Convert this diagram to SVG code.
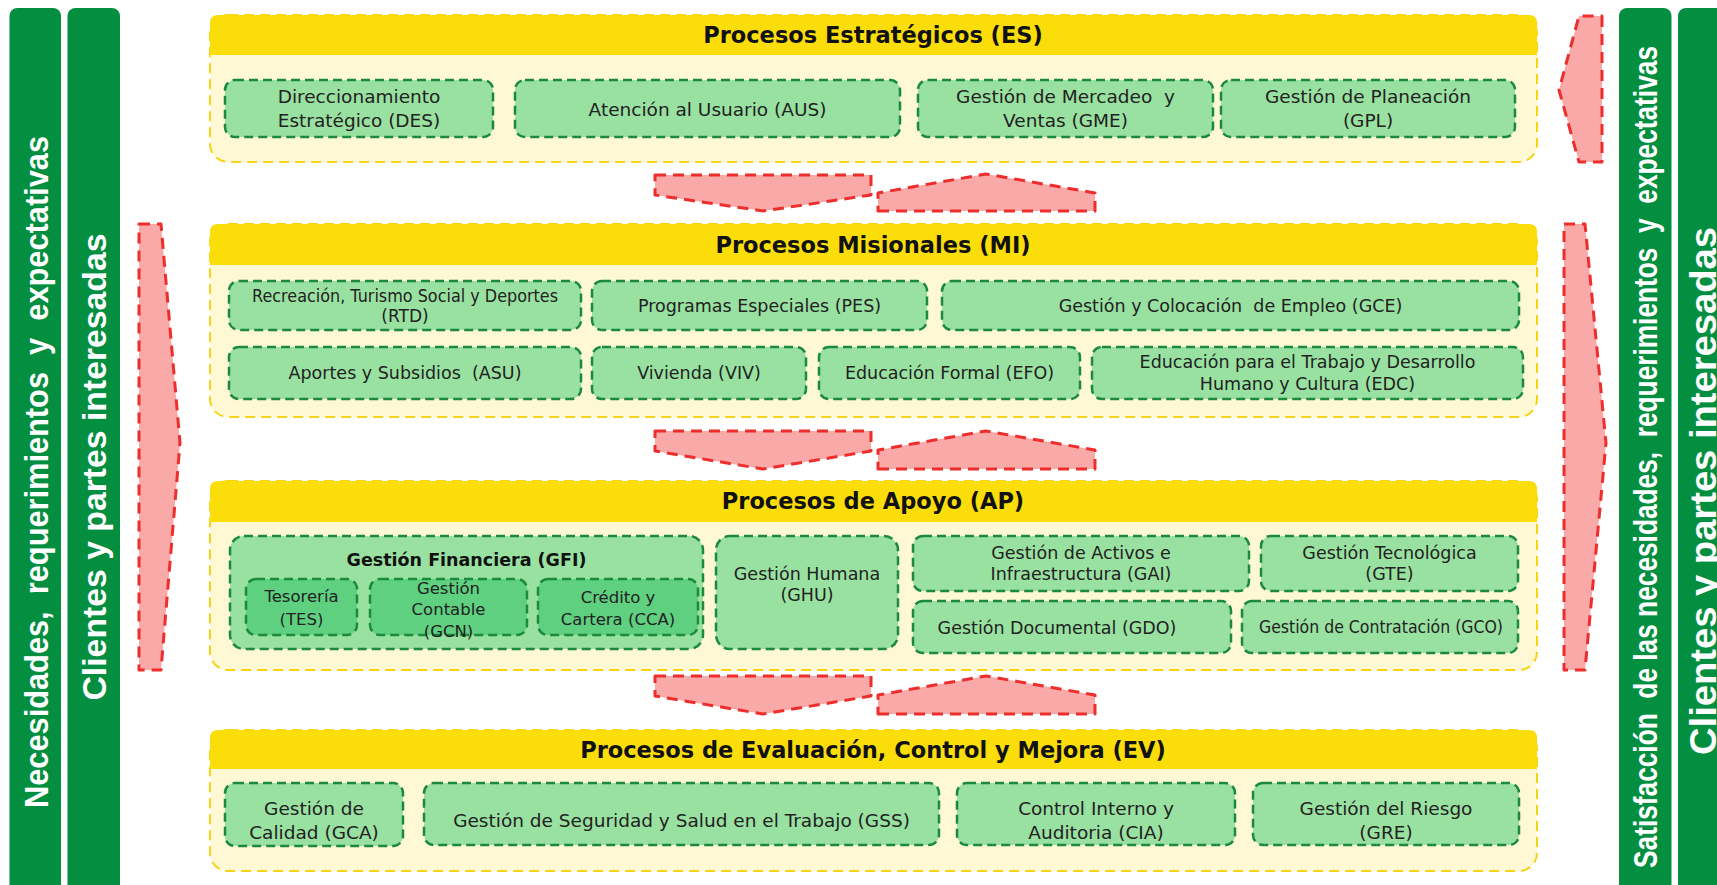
<svg xmlns="http://www.w3.org/2000/svg" width="1717" height="885" viewBox="0 0 1717 885">
<defs>
<style>
.bar{fill:#038F3F}
.vt{font-family:"Liberation Sans",Arial,sans-serif;font-weight:bold;fill:#ffffff;text-anchor:middle;white-space:pre}
.sec{fill:#FEF8D5;stroke:#F6D314;stroke-width:2;stroke-dasharray:10 6}
.hdr{fill:#FBDD0A}
.ttl{font-family:"DejaVu Sans",Verdana,sans-serif;font-weight:bold;font-size:22.5px;fill:#111;text-anchor:middle}
.box{fill:#99E1A1;stroke:#1B8B3B;stroke-width:2.5;stroke-dasharray:9 5}
.sub{fill:#5FCF80;stroke:#1B8B3B;stroke-width:2.5;stroke-dasharray:9 5}
.t{font-family:"DejaVu Sans",Verdana,sans-serif;font-size:17.5px;fill:#222;text-anchor:middle;white-space:pre}
.tl{font-size:18.5px}
.ts{font-size:16.5px}
.tn{font-size:17px}
.tb{font-family:"DejaVu Sans",Verdana,sans-serif;font-weight:bold;font-size:17.5px;fill:#111;text-anchor:middle}
.arr{fill:#F9A9A7;stroke:#EE2D2D;stroke-width:3;stroke-dasharray:11 7;stroke-linejoin:round}
</style>
</defs>
<rect width="1717" height="885" fill="#ffffff"/>

<g id="side-left-1"><rect class="bar" x="9.5" y="8" width="51.5" height="900" rx="8"/><text class="vt" font-size="34" textLength="672" lengthAdjust="spacingAndGlyphs" transform="translate(48,472) rotate(-90)">Necesidades,  requerimientos  y  expectativas</text></g>
<g id="side-left-2"><rect class="bar" x="67.5" y="8" width="52.5" height="900" rx="8"/><text class="vt" font-size="34" textLength="467" lengthAdjust="spacingAndGlyphs" transform="translate(106,467) rotate(-90)">Clientes y partes interesadas</text></g>
<g id="side-right-1"><rect class="bar" x="1619" y="8" width="52.5" height="900" rx="8"/><text class="vt" font-size="34" textLength="822" lengthAdjust="spacingAndGlyphs" transform="translate(1657,457) rotate(-90)">Satisfacción  de las necesidades,  requerimientos  y  expectativas</text></g>
<g id="side-right-2"><rect class="bar" x="1678" y="8" width="60" height="900" rx="8"/><text class="vt" font-size="37" textLength="528" lengthAdjust="spacingAndGlyphs" transform="translate(1716,491) rotate(-90)">Clientes y partes interesadas</text></g>

<g id="ES">
<rect class="sec" x="210" y="15" width="1327" height="147" rx="18"/>
<path class="hdr" d="M210,55 V23 Q210,15 218,15 H1529 Q1537,15 1537,23 V55 Z"/>
<text class="ttl" x="873" y="43">Procesos Estratégicos (ES)</text>
<g id="DES"><rect class="box" x="225" y="80" width="268" height="57" rx="10"/><text class="t tl" x="359" y="102.5">Direccionamiento</text><text class="t tl" x="359" y="126.5">Estratégico (DES)</text></g>
<g id="AUS"><rect class="box" x="515" y="80" width="385" height="57" rx="10"/><text class="t tl" x="707.5" y="115.5">Atención al Usuario (AUS)</text></g>
<g id="GME"><rect class="box" x="918" y="80" width="295" height="57" rx="10"/><text class="t tl" x="1065.5" y="102.5">Gestión de Mercadeo  y</text><text class="t tl" x="1065.5" y="126.5">Ventas (GME)</text></g>
<g id="GPL"><rect class="box" x="1221" y="80" width="294" height="57" rx="10"/><text class="t tl" x="1368" y="102.5">Gestión de Planeación</text><text class="t tl" x="1368" y="126.5">(GPL)</text></g>
</g>

<g id="MI">
<rect class="sec" x="210" y="224" width="1327" height="193" rx="18"/>
<path class="hdr" d="M210,265 V232 Q210,224 218,224 H1529 Q1537,224 1537,232 V265 Z"/>
<text class="ttl" x="873" y="253">Procesos Misionales (MI)</text>
<g id="RTD"><rect class="box" x="229" y="281" width="352" height="49" rx="10"/><text class="t tn" x="405" y="302" textLength="306" lengthAdjust="spacingAndGlyphs">Recreación, Turismo Social y Deportes</text><text class="t tn" x="405" y="322">(RTD)</text></g>
<g id="PES"><rect class="box" x="592" y="281" width="335" height="49" rx="10"/><text class="t" x="759.5" y="312">Programas Especiales (PES)</text></g>
<g id="GCE"><rect class="box" x="942" y="281" width="577" height="49" rx="10"/><text class="t" x="1230.5" y="312">Gestión y Colocación  de Empleo (GCE)</text></g>
<g id="ASU"><rect class="box" x="229" y="347" width="352" height="52" rx="10"/><text class="t" x="405" y="379">Aportes y Subsidios  (ASU)</text></g>
<g id="VIV"><rect class="box" x="592" y="347" width="214" height="52" rx="10"/><text class="t" x="699" y="379">Vivienda (VIV)</text></g>
<g id="EFO"><rect class="box" x="819" y="347" width="261" height="52" rx="10"/><text class="t" x="949.5" y="379">Educación Formal (EFO)</text></g>
<g id="EDC"><rect class="box" x="1092" y="347" width="431" height="52" rx="10"/><text class="t" x="1307.5" y="368">Educación para el Trabajo y Desarrollo</text><text class="t" x="1307.5" y="390">Humano y Cultura (EDC)</text></g>
</g>

<g id="AP">
<rect class="sec" x="210" y="481" width="1327" height="189" rx="18"/>
<path class="hdr" d="M210,522 V489 Q210,481 218,481 H1529 Q1537,481 1537,489 V522 Z"/>
<text class="ttl" x="873" y="509">Procesos de Apoyo (AP)</text>
<g id="GFI"><rect class="box" x="230" y="536" width="473" height="113" rx="14"/><text class="tb" x="466.5" y="566">Gestión Financiera (GFI)</text>
<g id="TES"><rect class="sub" x="246" y="579" width="111" height="56" rx="10"/><text class="t ts" x="301.5" y="602">Tesorería</text><text class="t ts" x="301.5" y="625">(TES)</text></g>
<g id="GCN"><rect class="sub" x="370" y="579" width="157" height="56" rx="10"/><text class="t ts" x="448.5" y="594">Gestión</text><text class="t ts" x="448.5" y="615">Contable</text><text class="t ts" x="448.5" y="637">(GCN)</text></g>
<g id="CCA"><rect class="sub" x="538" y="579" width="160" height="56" rx="10"/><text class="t ts" x="618" y="603">Crédito y</text><text class="t ts" x="618" y="625">Cartera (CCA)</text></g>
</g>
<g id="GHU"><rect class="box" x="716" y="536" width="182" height="113" rx="14"/><text class="t" x="807" y="580">Gestión Humana</text><text class="t" x="807" y="601">(GHU)</text></g>
<g id="GAI"><rect class="box" x="913" y="536" width="336" height="55" rx="10"/><text class="t" x="1081" y="559">Gestión de Activos e</text><text class="t" x="1081" y="580">Infraestructura (GAI)</text></g>
<g id="GTE"><rect class="box" x="1261" y="536" width="257" height="55" rx="10"/><text class="t" x="1389.5" y="559">Gestión Tecnológica</text><text class="t" x="1389.5" y="580">(GTE)</text></g>
<g id="GDO"><rect class="box" x="913" y="601" width="318" height="52" rx="10"/><text class="t" x="1057" y="634">Gestión Documental (GDO)</text></g>
<g id="GCO"><rect class="box" x="1242" y="601" width="276" height="52" rx="10"/><text class="t tn" x="1381" y="633" textLength="244" lengthAdjust="spacingAndGlyphs">Gestión de Contratación (GCO)</text></g>
</g>

<g id="EV">
<rect class="sec" x="210" y="730" width="1327" height="141" rx="18"/>
<path class="hdr" d="M210,769 V738 Q210,730 218,730 H1529 Q1537,730 1537,738 V769 Z"/>
<text class="ttl" x="873" y="758">Procesos de Evaluación, Control y Mejora (EV)</text>
<g id="GCA"><rect class="box" x="225" y="783" width="178" height="63" rx="10"/><text class="t tl" x="314" y="815">Gestión de</text><text class="t tl" x="314" y="839">Calidad (GCA)</text></g>
<g id="GSS"><rect class="box" x="424" y="783" width="515" height="62" rx="10"/><text class="t tl" x="681.5" y="827">Gestión de Seguridad y Salud en el Trabajo (GSS)</text></g>
<g id="CIA"><rect class="box" x="957" y="783" width="278" height="62" rx="10"/><text class="t tl" x="1096" y="815">Control Interno y</text><text class="t tl" x="1096" y="839">Auditoria (CIA)</text></g>
<g id="GRE"><rect class="box" x="1253" y="783" width="266" height="62" rx="10"/><text class="t tl" x="1386" y="815">Gestión del Riesgo</text><text class="t tl" x="1386" y="839">(GRE)</text></g>
</g>

<g id="connectors">
<polygon class="arr" points="655,175 871,175 871,195 763,211 655,195"/>
<polygon class="arr" points="878,211 1095,211 1095,193 986,174 878,193"/>
<polygon class="arr" points="655,431 871,431 871,451 763,469 655,451"/>
<polygon class="arr" points="878,469 1095,469 1095,450 986,431 878,450"/>
<polygon class="arr" points="655,676 871,676 871,696 763,714 655,696"/>
<polygon class="arr" points="878,714 1095,714 1095,695 986,676 878,695"/>
<polygon class="arr" points="139,224 161,224 180,443 161,670 139,670"/>
<polygon class="arr" points="1564,224 1585,224 1606,443 1585,670 1564,670"/>
<polygon class="arr" points="1602,16 1602,162 1579,162 1559,90 1579,16"/>
</g>
</svg>
